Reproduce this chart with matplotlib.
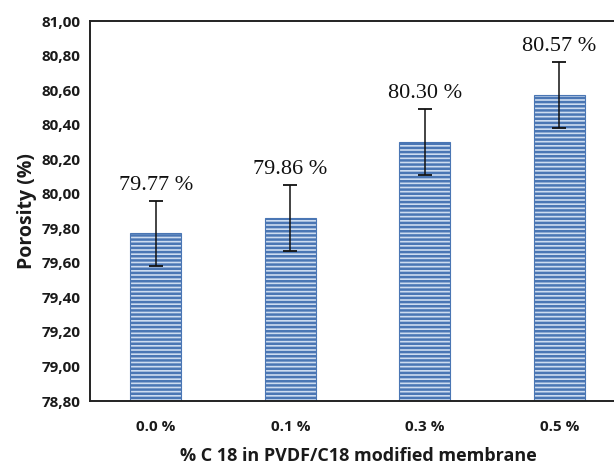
import matplotlib.pyplot as plt
from matplotlib.ticker import FuncFormatter
import numpy as np

# porosity of PVDF/C18 membranes
categories = ['0.0 %', '0.1 %', '0.3 %', '0.5 %']
porosity = [79.77, 79.86, 80.30, 80.57]
errors = [0.19, 0.19, 0.19, 0.19]
value_labels = ['79.77 %', '79.86 %', '80.30 %', '80.57 %']
yticks = np.arange(78.8, 81.001, 0.2)

plt.rcParams['hatch.linewidth'] = 1.8
plt.rcParams['hatch.color'] = '#3767ab'

fig = plt.figure(figsize=(6.14, 4.67), dpi=100)
ax = fig.add_axes([0.1466, 0.1413, 0.874, 0.8137])

x = np.arange(len(categories))
bars = ax.bar(x, np.array(porosity) - 78.8, bottom=78.8, width=0.38,
              color='#cddcf0', edgecolor='#4a76b4', linewidth=0.8,
              hatch='----')
ax.errorbar(x, porosity, yerr=errors, fmt='none', ecolor='#111111',
            elinewidth=1.1, capsize=5, capthick=1.3)

for xi, v, e, lab in zip(x, porosity, errors, value_labels):
    ax.text(xi, v + e + 0.035, lab, ha='center', va='bottom',
            family='Liberation Serif', fontsize=16, color='#111111')

ax.set_xlim(-0.49, 3.5)
ax.set_ylim(78.8, 81.0)
ax.set_yticks(yticks)
ax.yaxis.set_major_formatter(FuncFormatter(lambda v, p: f'{v:.2f}'.replace('.', ',')))
ax.set_xticks(x)
ax.set_xticklabels(categories)
ax.tick_params(length=0, labelsize=11, pad=7)
ax.tick_params(axis='x', pad=14)
for lab in ax.get_xticklabels() + ax.get_yticklabels():
    lab.set_fontweight('bold')
    lab.set_family('Open Sans')
    lab.set_color('#1a1a1a')

for s in ['left', 'bottom', 'top']:
    ax.spines[s].set_linewidth(1.4)
    ax.spines[s].set_color('#222222')
ax.spines['right'].set_visible(False)

ax.set_xlabel('% C 18 in PVDF/C18 modified membrane', family='Open Sans',
              fontweight='bold', fontsize=13, labelpad=9, color='#1a1a1a')
ax.set_ylabel('Porosity (%)', family='Open Sans', fontweight='bold',
              fontsize=14, labelpad=3, color='#1a1a1a')

fig.savefig('out.png', dpi=100)
